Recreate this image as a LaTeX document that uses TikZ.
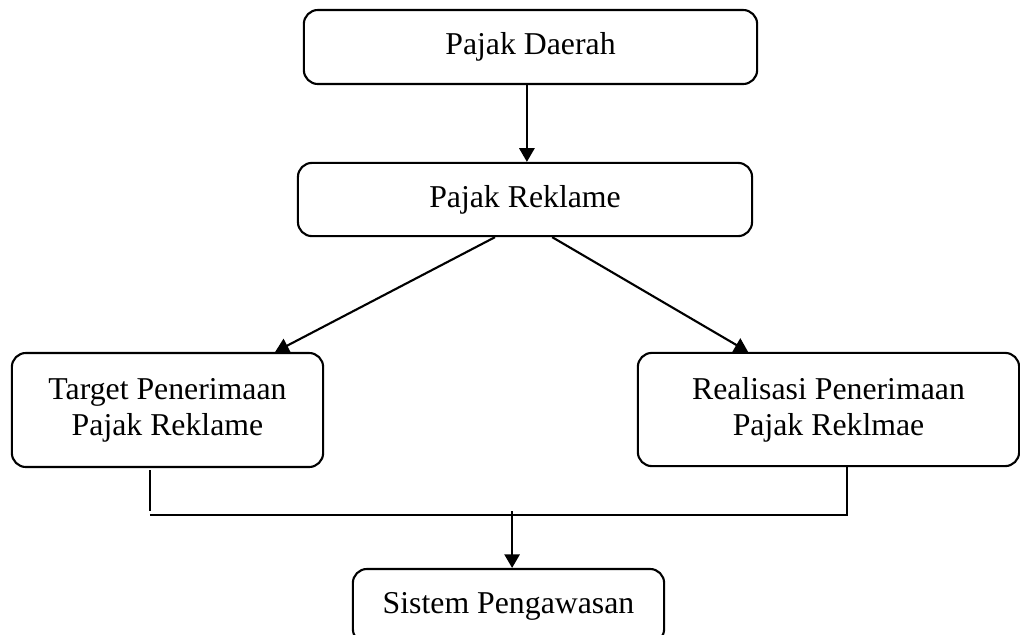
\documentclass[tikz,border=0pt]{standalone}
\usepackage{fontspec}
\setmainfont{Liberation Serif}
\usetikzlibrary{arrows.meta,positioning}

\tikzset{
  box/.style={draw, rounded corners=10pt, line width=1.5pt, align=center, inner sep=0pt,
    font=\fontsize{22.6}{25.6}\selectfont},
  arr/.style={line width=1.5pt, -{Triangle[length=0.34cm,width=0.38cm]}},
  ln/.style={line width=1.5pt}
}

\begin{document}
\begin{tikzpicture}[x=0.025cm, y=-0.025cm]
        \clip (0,0) rectangle (1020,634);
        \node[box, minimum width=11.33cm, minimum height=1.85cm] (daerah) at (530.5,47) {Pajak Daerah};
        \node[box, minimum width=11.35cm, minimum height=1.83cm] (reklame) at (525,199.5) {Pajak Reklame};
        \node[box, minimum width=7.78cm, minimum height=2.85cm] (target) at (167.5,410) {Target Penerimaan\\Pajak Reklame};
        \node[box, minimum width=9.53cm, minimum height=2.83cm] (realisasi) at (828.5,409.5) {Realisasi Penerimaan\\Pajak Reklmae};
        \node[box, minimum width=7.78cm, minimum height=1.85cm] (sistem) at (508.5,606) {Sistem Pengawasan};

        % bracket under the two boxes
        \coordinate (kiri) at ([xshift=-0.44cm, yshift=-0.05cm]target.south);
        \coordinate (kanan) at ([xshift=0.46cm]realisasi.south);
        \coordinate (tengah) at ([xshift=0.09cm]sistem.north |- 0,511);

        \draw[arr] ([xshift=-0.09cm]daerah.south) -- ([xshift=-0.09cm]daerah.south |- reklame.north);
        \draw[arr] ([xshift=-0.75cm]reklame.south) -- ([xshift=2.69cm]target.north);
        \draw[arr] ([xshift=0.68cm]reklame.south) -- ([xshift=-2.01cm]realisasi.north);
        \draw[ln] (kiri) -- (kiri |- 0,511);
        \draw[ln] (kiri |- 0,515) -- (kanan |- 0,515) -- (kanan);
        \draw[arr] (tengah) -- (tengah |- sistem.north);
\end{tikzpicture}
\end{document}
